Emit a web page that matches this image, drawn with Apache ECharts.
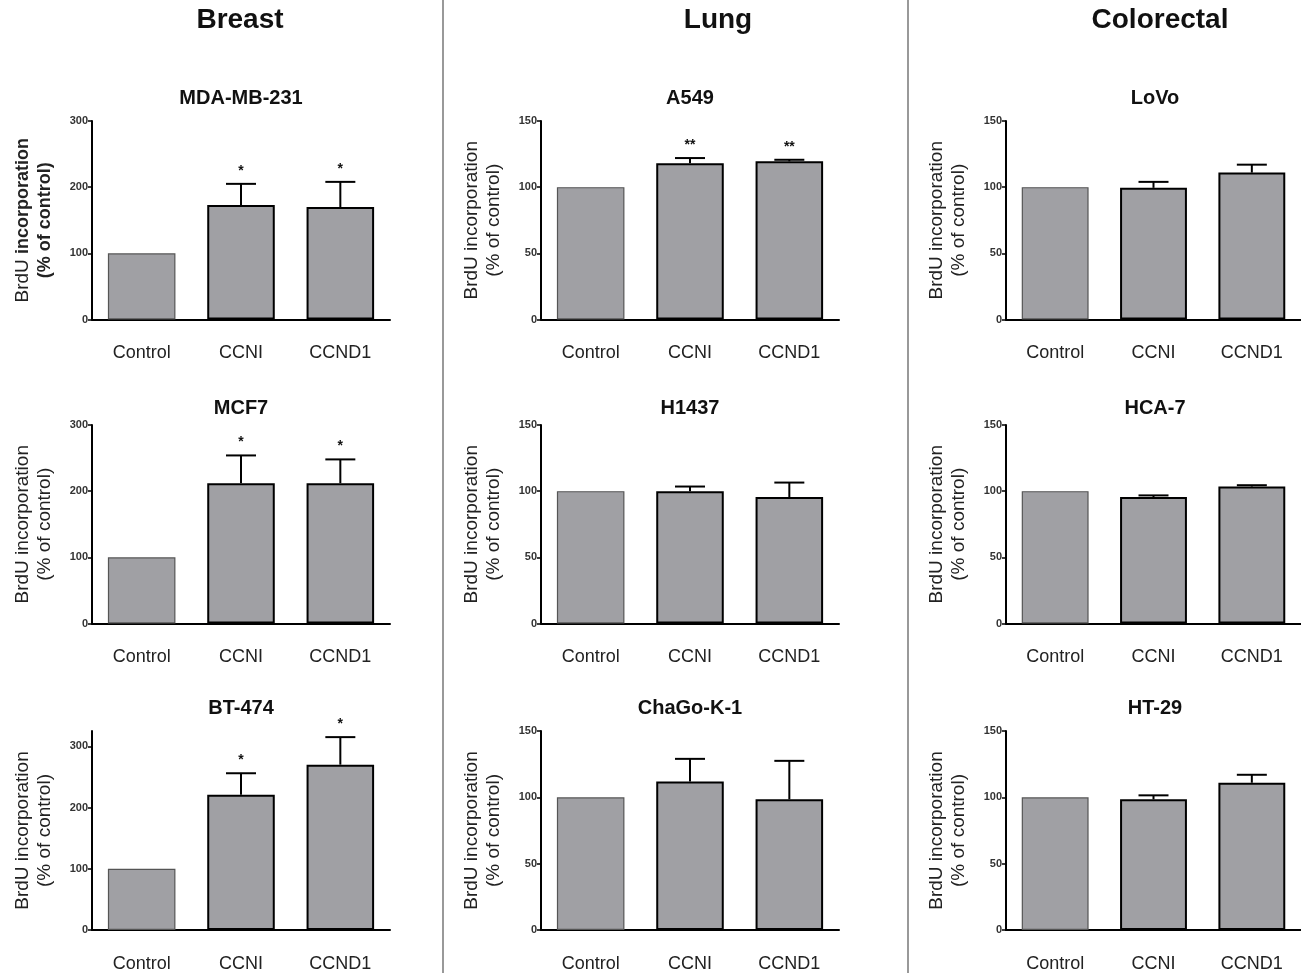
<!DOCTYPE html>
<html><head><meta charset="utf-8">
<script src="https://cdn.jsdelivr.net/npm/echarts@6/dist/echarts.min.js"></script>
<style>html,body{margin:0;padding:0;background:#fff}#c{width:1301px;height:973px}</style>
</head><body><div id="c"></div>
<script>
// ---------- data ----------
const categories = ['Control', 'CCNI', 'CCND1'];
const columnHeaders = ['Breast', 'Lung', 'Colorectal'];
const cellLines = ['MDA-MB-231', 'A549', 'LoVo', 'MCF7', 'H1437', 'HCA-7', 'BT-474', 'ChaGo-K-1', 'HT-29'];

const mdaMeans = [100, 173, 170];     const mdaErr = [0, 32, 38];     const mdaSig = ['', '*', '*'];
const a549Means = [100, 118, 119.5];  const a549Err = [0, 4, 1.2];    const a549Sig = ['', '**', '**'];
const lovoMeans = [100, 99.5, 111];   const lovoErr = [0, 4.5, 6];    const lovoSig = ['', '', ''];
const mcf7Means = [100, 212, 212];    const mcf7Err = [0, 42, 36];    const mcf7Sig = ['', '*', '*'];
const h1437Means = [100, 100, 95.5];  const h1437Err = [0, 3.5, 11];  const h1437Sig = ['', '', ''];
const hca7Means = [100, 95.5, 103.5]; const hca7Err = [0, 1.3, 1];   const hca7Sig = ['', '', ''];
const bt474Means = [100, 221, 270];   const bt474Err = [0, 35, 45];   const bt474Sig = ['', '*', '*'];
const chagoMeans = [100, 112, 98.5];  const chagoErr = [0, 17, 29];   const chagoSig = ['', '', ''];
const ht29Means = [100, 98.5, 111];   const ht29Err = [0, 3, 6];      const ht29Sig = ['', '', ''];

const breastTicks = [0, 100, 200, 300];
const otherTicks = [0, 50, 100, 150];
const yTitle = 'BrdU incorporation\n(% of control)';

// ---------- assembly ----------
const means = [mdaMeans, a549Means, lovoMeans, mcf7Means, h1437Means, hca7Means, bt474Means, chagoMeans, ht29Means];
const errs = [mdaErr, a549Err, lovoErr, mcf7Err, h1437Err, hca7Err, bt474Err, chagoErr, ht29Err];
const sigs = [mdaSig, a549Sig, lovoSig, mcf7Sig, h1437Sig, hca7Sig, bt474Sig, chagoSig, ht29Sig];

const FONT = 'Arial, "Liberation Sans", Helvetica, sans-serif';
const colLeft = [92, 541, 1006];
const colWidth = 298;
const rowTop = [121, 425, 731];
const rowHeight = [198.5, 198.5, 200.5];
const titleY = [98, 408, 708];
const headerX = [240, 718, 1160];
const BAR = '#a0a0a4';

const grids = [], xAxes = [], yAxes = [], series = [], graphics = [];

function renderErr(p) {
  return function (params, api) {
    const i = api.value(0), m = api.value(1), e = api.value(2);
    const base = api.coord([i, m]);
    const top = api.coord([i, m + e]);
    const children = [];
    if (e > 0) {
      children.push({ type: 'line', shape: { x1: base[0], y1: base[1], x2: top[0], y2: top[1] }, style: { stroke: '#000', lineWidth: 2 } });
      children.push({ type: 'line', shape: { x1: top[0] - 15, y1: top[1], x2: top[0] + 15, y2: top[1] }, style: { stroke: '#000', lineWidth: 2 } });
    }
    const s = sigs[p][params.dataIndex];
    if (s) children.push({ type: 'text', style: { text: s, x: top[0], y: top[1] - 13, align: 'center', verticalAlign: 'middle', font: 'bold 14px ' + FONT, fill: '#111' } });
    return { type: 'group', children };
  };
}

for (let p = 0; p < 9; p++) {
  const r = Math.floor(p / 3), c = p % 3;
  const breast = c === 0;
  const isBT = p === 6;
  grids.push({ left: colLeft[c], top: rowTop[r], width: colWidth, height: rowHeight[r], containLabel: false });
  xAxes.push({
    type: 'category', gridIndex: p, data: categories,
    axisLine: { lineStyle: { color: '#000', width: 2 } },
    axisTick: { alignWithLabel: true, length: 6, lineStyle: { color: '#000', width: 1.5 } },
    axisLabel: { margin: 25, fontSize: 18, color: '#222', fontFamily: FONT }
  });
  const ticks = breast ? breastTicks : otherTicks;
  const y = {
    type: 'value', gridIndex: p, min: 0,
    max: isBT ? 325 : ticks[ticks.length - 1],
    interval: ticks[1] - ticks[0],
    splitLine: { show: false },
    axisLine: { show: true, lineStyle: { color: '#000', width: 2 } },
    axisTick: { show: true, length: 4, lineStyle: { color: '#000', width: 1.5 } },
    axisLabel: { fontSize: 11, fontWeight: 'bold', color: '#333', margin: 4, fontFamily: FONT },
    name: yTitle, nameLocation: 'middle', nameGap: 36, nameRotate: 90,
    nameTextStyle: { fontSize: 19, color: '#222', fontFamily: FONT, lineHeight: 22 }
  };
  if (isBT) {
    y.axisLabel.customValues = ticks;
    y.axisTick.customValues = ticks;
  }
  if (p === 0) {
    y.name = '{n|BrdU }{b|incorporation}\n{b|(% of control)}';
    y.nameTextStyle.rich = {
      n: { fontSize: 19, color: '#222', fontFamily: FONT, lineHeight: 22 },
      b: { fontSize: 18, fontWeight: 'bold', color: '#222', fontFamily: FONT, lineHeight: 22 }
    };
  }
  yAxes.push(y);

  series.push({
    type: 'bar', xAxisIndex: p, yAxisIndex: p, barWidth: '68%', z: 2,
    data: means[p].map((v, i) => ({
      value: v,
      itemStyle: i === 0 ? { color: BAR, borderColor: '#555', borderWidth: 1.2 } : { color: BAR, borderColor: '#000', borderWidth: 2 }
    }))
  });
  series.push({
    type: 'custom', xAxisIndex: p, yAxisIndex: p, z: 5, clip: false,
    renderItem: renderErr(p),
    encode: { x: 0, y: 1 },
    data: means[p].map((v, i) => [i, v, errs[p][i]])
  });

  graphics.push({
    type: 'text', x: colLeft[c] + colWidth / 2, y: titleY[r],
    style: { text: cellLines[p], align: 'center', verticalAlign: 'middle', font: 'bold 20px ' + FONT, fill: '#111' }
  });
}

columnHeaders.forEach((h, i) => {
  graphics.push({ type: 'text', x: headerX[i], y: 20, style: { text: h, align: 'center', verticalAlign: 'middle', font: 'bold 28px ' + FONT, fill: '#111' } });
});
[443, 908].forEach(x => {
  graphics.push({ type: 'line', shape: { x1: x, y1: 0, x2: x, y2: 973 }, style: { stroke: '#999', lineWidth: 2 } });
});

const chart = echarts.init(document.getElementById('c'), null, { renderer: 'canvas' });
chart.setOption({
  animation: false,
  backgroundColor: '#fff',
  grid: grids, xAxis: xAxes, yAxis: yAxes, series: series,
  graphic: graphics
});
</script>
</body></html>
